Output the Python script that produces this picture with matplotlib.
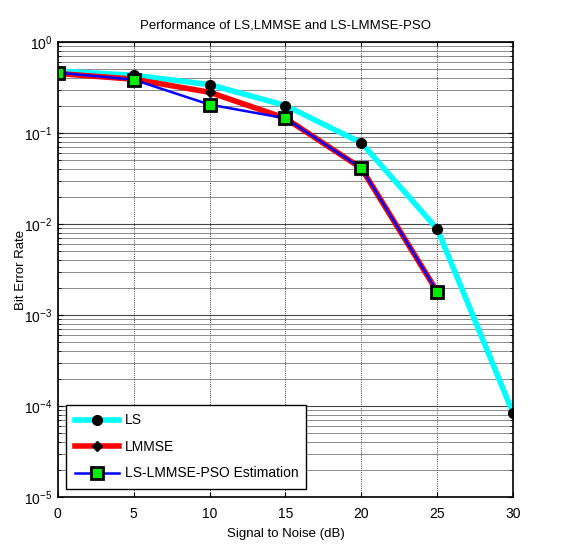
import matplotlib.pyplot as plt
import numpy as np

plt.rcParams['font.family'] = ['Liberation Sans', 'DejaVu Sans']

snr = [0, 5, 10, 15, 20, 25, 30]
ber_ls = [0.48, 0.43, 0.34, 0.20, 0.078, 0.0088, 8.3e-5]
snr_lmmse = [0, 5, 10, 15, 20, 25]
ber_lmmse = [0.45, 0.39, 0.28, 0.145, 0.041, 0.0018]
snr_pso = [0, 5, 10, 15, 20, 25]
ber_pso = [0.46, 0.385, 0.205, 0.145, 0.041, 0.0018]


def main():
    fig = plt.figure(figsize=(5.67, 5.45), dpi=100)
    ax = fig.add_axes([0.102, 0.088, 0.803, 0.835])

    ax.semilogy(snr, ber_ls, color='cyan', lw=4, marker='o', ms=7,
                mfc='black', mec='black', label='LS')
    ax.semilogy(snr_lmmse, ber_lmmse, color='red', lw=4, marker='D', ms=5,
                mfc='black', mec='black', label='LMMSE')
    ax.semilogy(snr_pso, ber_pso, color='blue', lw=1.8, marker='s', ms=8,
                mfc='#00ee00', mec='black', mew=2, label='LS-LMMSE-PSO Estimation')

    ax.set_xlim(0, 30)
    ax.set_ylim(1e-5, 1)
    ax.set_xticks([0, 5, 10, 15, 20, 25, 30])
    ax.grid(True, which='major', axis='x', color='black', ls=':', lw=0.6)
    ax.grid(True, which='major', axis='y', color='#444444', ls='-', lw=0.8)
    ax.grid(True, which='minor', axis='y', color='#777777', ls='-', lw=0.6)
    ax.tick_params(which='both', direction='in', top=True, right=True, labelsize=10)
    ax.tick_params(axis='x', pad=7)
    ax.tick_params(axis='y', pad=4)
    for s in ax.spines.values():
        s.set_linewidth(1.2)

    ax.set_xlabel('Signal to Noise (dB)', fontsize=9.5, labelpad=5)
    ax.set_ylabel('Bit Error Rate', fontsize=9.5, labelpad=-2)
    ax.set_title('Performance of LS,LMMSE and LS-LMMSE-PSO', fontsize=9.5, pad=10)

    leg = ax.legend(loc='lower left', fontsize=10, fancybox=False, framealpha=1,
                    edgecolor='black', handlelength=3.2, labelspacing=0.9,
                    borderaxespad=0.6, borderpad=0.6, handletextpad=0.4)
    leg.get_frame().set_linewidth(1.0)

    plt.savefig('out.png', dpi=100)


if __name__ == '__main__':
    main()
